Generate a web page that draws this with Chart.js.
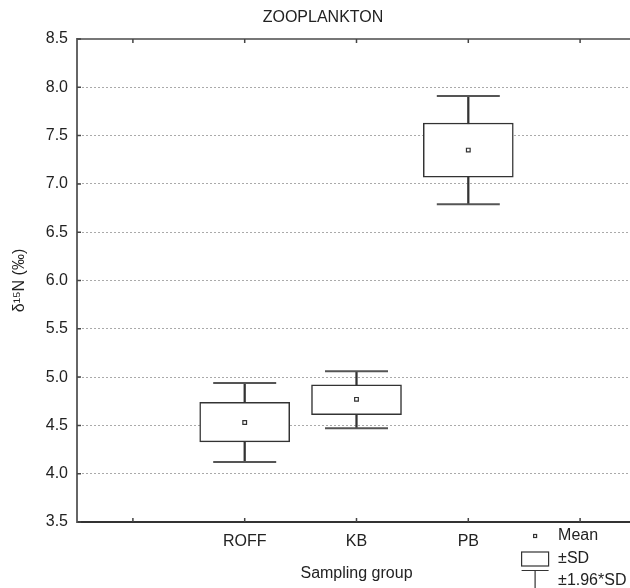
<!DOCTYPE html>
<html>
<head>
<meta charset="utf-8">
<script src="https://cdn.jsdelivr.net/npm/chart.js@4/dist/chart.umd.min.js"></script>
<style>
  html, body { margin: 0; padding: 0; background: #fff; overflow: hidden; }
  canvas { display: block; }
</style>
</head>
<body>
<canvas id="chart" width="636" height="588"></canvas>
<script>
// values (per sampling group)
const groups = ["ROFF", "KB", "PB"];
const categories = ["", "ROFF", "KB", "PB", ""];
const means = [4.53, 4.77, 7.35];
const boxLow = [4.33, 4.61, 7.07];     // mean - SD
const boxHigh = [4.74, 4.92, 7.63];    // mean + SD
const whiskLow = [4.12, 4.47, 6.79];   // mean - 1.96*SD
const whiskHigh = [4.94, 5.06, 7.91];  // mean + 1.96*SD
const yTicks = [3.5, 4.0, 4.5, 5.0, 5.5, 6.0, 6.5, 7.0, 7.5, 8.0, 8.5];

const font = { family: "'Liberation Sans', Arial, sans-serif", size: 16 };
const ink = "#222";

// inward tick marks on the frame
const innerTicks = {
  id: "innerTicks",
  afterDatasetsDraw(chart) {
    const ctx = chart.ctx;
    const x = chart.scales.x, y = chart.scales.y;
    const area = chart.chartArea;
    ctx.save();
    ctx.strokeStyle = "#444";
    ctx.lineWidth = 1.5;
    ctx.beginPath();
    x.ticks.forEach((t, i) => {
      const px = x.getPixelForTick(i);
      ctx.moveTo(px, area.bottom); ctx.lineTo(px, area.bottom - 4);
      ctx.moveTo(px, area.top); ctx.lineTo(px, area.top + 4);
    });
    y.ticks.forEach((t, i) => {
      const py = y.getPixelForTick(i);
      ctx.moveTo(area.left, py); ctx.lineTo(area.left + 4, py);
    });
    ctx.stroke();
    ctx.restore();
  }
};

// legend for the box plot symbols
const boxLegend = {
  id: "boxLegend",
  afterDraw(chart) {
    const ctx = chart.ctx;
    const cx = chart.scales.x.getPixelForValue(4) - 45;
    const tx = cx + 23;
    ctx.save();
    ctx.strokeStyle = "#333";
    ctx.lineWidth = 1.2;
    // mean
    ctx.strokeRect(cx - 1.5, 534.5, 3, 3);
    // box
    ctx.strokeRect(cx - 13.5, 552, 27, 14);
    // whisker
    ctx.beginPath();
    ctx.moveTo(cx - 13.5, 570.5); ctx.lineTo(cx + 13.5, 570.5);
    ctx.moveTo(cx, 570.5); ctx.lineTo(cx, 588);
    ctx.stroke();
    ctx.fillStyle = ink;
    ctx.font = "16px 'Liberation Sans', Arial, sans-serif";
    ctx.textBaseline = "middle";
    ctx.fillText("Mean", tx, 536);
    ctx.fillText("\u00b1SD", tx, 559);
    ctx.fillText("\u00b11.96*SD", tx, 581);
    ctx.restore();
  }
};

new Chart(document.getElementById("chart"), {
  type: "bar",
  data: {
    labels: categories,
    datasets: [
      {
        type: "line",
        order: 0,
        showLine: false,
        data: groups.map((g, i) => ({ x: g, y: means[i] })),
        pointStyle: "rect",
        pointRadius: 2.6,
        pointBackgroundColor: "#fff",
        pointBorderColor: "#333",
        pointBorderWidth: 1.2
      },
      {
        type: "line",
        order: 1,
        showLine: false,
        data: groups.map((g, i) => ({ x: g, y: whiskHigh[i] }))
          .concat(groups.map((g, i) => ({ x: g, y: whiskLow[i] }))),
        pointStyle: "line",
        pointRadius: 31.5,
        pointBorderColor: "#555",
        pointBorderWidth: 2
      },
      {
        order: 2,
        grouped: false,
        data: groups.map((g, i) => ({ x: g, y: [boxLow[i], boxHigh[i]] })),
        barThickness: 90,
        backgroundColor: "#fff",
        borderColor: "#333",
        borderWidth: 1.5,
        borderSkipped: false
      },
      {
        order: 3,
        grouped: false,
        data: groups.map((g, i) => ({ x: g, y: [whiskLow[i], whiskHigh[i]] })),
        barThickness: 1.6,
        backgroundColor: "#333",
        borderWidth: 0
      }
    ]
  },
  options: {
    responsive: false,
    animation: false,
    layout: { autoPadding: false, padding: { left: 10, right: 0, top: 0, bottom: 0 } },
    plugins: {
      legend: { display: false },
      tooltip: { enabled: false },
      title: {
        display: true,
        text: "ZOOPLANKTON",
        color: ink,
        font: { ...font, weight: "normal" },
        padding: { top: 8, bottom: 0 }
      }
    },
    scales: {
      x: {
        type: "category",
        offset: true,
        grid: { display: false, drawTicks: false },
        border: { display: true, color: "#333", width: 2 },
        ticks: { color: ink, font: font, padding: 10, maxRotation: 0 },
        title: {
          display: true,
          text: "Sampling group",
          color: ink,
          font: font,
          padding: { top: 0, bottom: 5 }
        },
        afterFit(scale) { scale.height = 66; }
      },
      x2: {
        type: "category",
        position: "top",
        labels: categories,
        offset: true,
        grid: { display: false, drawTicks: false },
        border: { display: true, color: "#777", width: 2 },
        ticks: { display: false },
        afterFit(scale) { scale.height = 11.8; }
      },
      y: {
        min: 3.5,
        max: 8.5,
        afterBuildTicks(scale) { scale.ticks = yTicks.map(v => ({ value: v })); },
        grid: { color: "#aaa", lineWidth: 1, drawTicks: false },
        border: { display: true, color: "#666", width: 2, dash: [2, 2] },
        ticks: {
          color: ink,
          font: font,
          padding: 9,
          callback: v => v.toFixed(1)
        },
        title: {
          display: true,
          text: "\u03b4\u00b9\u2075N (\u2030)",
          color: ink,
          font: font,
          padding: 0
        },
        afterFit(scale) { scale.width = 67; }
      }
    }
  },
  plugins: [innerTicks, boxLegend]
});
</script>
</body>
</html>
